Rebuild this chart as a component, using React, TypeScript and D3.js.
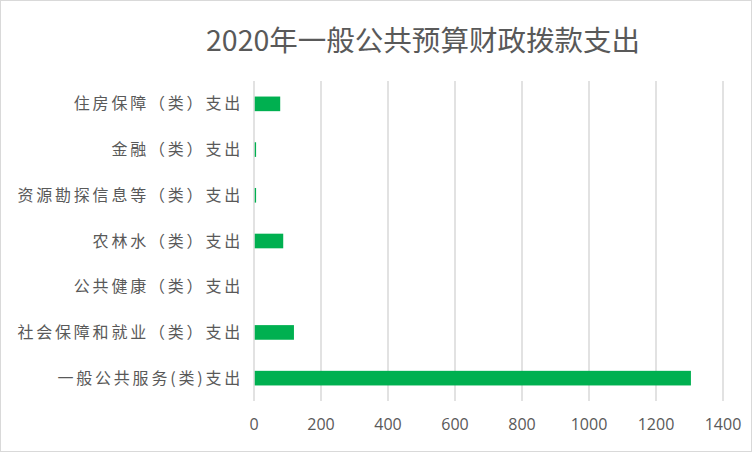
import React from "react";
import * as d3 from "d3";

const categories = [
  "住房保障（类）支出",
  "金融（类）支出",
  "资源勘探信息等（类）支出",
  "农林水（类）支出",
  "公共健康（类）支出",
  "社会保障和就业（类）支出",
  "一般公共服务(类)支出",
];
const values = [76, 4, 4, 85, 0, 117, 1302];
const xTicks = [0, 200, 400, 600, 800, 1000, 1200, 1400];
const title = "2020年一般公共预算财政拨款支出";

const W = 752;
const H = 452;
const M = { left: 254, right: 29, top: 81, bottom: 51 };

export default function App() {
  const x = d3.scaleLinear().domain([0, 1400]).range([M.left, W - M.right]);
  const y = d3
    .scaleBand<string>()
    .domain(categories)
    .range([M.top, H - M.bottom])
    .paddingInner(0.68)
    .paddingOuter(0.34);
  const font = "'Noto Sans CJK SC', 'Noto Sans', sans-serif";
  return (
    <svg
      width={W}
      height={H}
      style={{ position: "absolute", left: 0, top: 0, background: "#fff" }}
    >
      <rect x={0.5} y={0.5} width={W - 1} height={H - 1} fill="#fff" stroke="#D9D9D9" />
      <text
        x={423}
        y={51}
        textAnchor="middle"
        fontFamily={font}
        fontSize={28}
        fill="#595959"
        textLength={434}
        lengthAdjust="spacingAndGlyphs"
      >
        {title}
      </text>
      {xTicks.map((t) => (
        <g key={t}>
          <line
            x1={x(t)}
            x2={x(t)}
            y1={M.top}
            y2={H - M.bottom}
            stroke="#D9D9D9"
            strokeWidth={1.5}
          />
          <text
            x={x(t)}
            y={430}
            textAnchor="middle"
            fontFamily="'Open Sans', 'Noto Sans', sans-serif"
            fontSize={16}
            fill="#595959"
          >
            {t}
          </text>
        </g>
      ))}
      {categories.map((c, i) => (
        <g key={c}>
          <rect
            x={x(0) + 0.75}
            y={y(c)!}
            width={Math.max(0, x(values[i]) - x(0))}
            height={y.bandwidth()}
            fill="#00B050"
          />
          <text
            x={243}
            y={y(c)! + y.bandwidth() / 2}
            dy="0.35em"
            textAnchor="end"
            fontFamily={font}
            fontSize={16}
            letterSpacing={2.8}
            fill="#595959"
          >
            {c}
          </text>
        </g>
      ))}
    </svg>
  );
}
